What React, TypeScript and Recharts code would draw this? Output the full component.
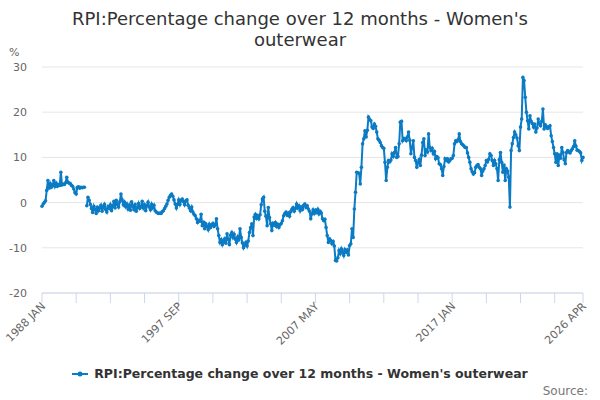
import React from 'react'
import { LineChart, Line, XAxis, YAxis, CartesianGrid } from 'recharts'

const FONT = '"DejaVu Sans", "Lucida Grande", Arial, sans-serif'
const LINE_COLOR = '#0a7bc4'

const title1 = "RPI:Percentage change over 12 months - Women's"
const title2 = 'outerwear'
const seriesName = "RPI:Percentage change over 12 months - Women's outerwear"

const startYear = 1988
const monthNames = ['JAN', 'FEB', 'MAR', 'APR', 'MAY', 'JUN', 'JUL', 'AUG', 'SEP', 'OCT', 'NOV', 'DEC']

// monthly % change, one row per year
const pct1988to1996 = [
  -0.8, -0.3, 0.0, 0.4, 2.7, 4.9, 3.2, 4.2, 3.4, 3.8, 4.9, 3.6,
  4.3, 3.6, 4.0, 3.8, 6.7, 3.9, 4.1, 4.0, 4.4, 5.6, 4.5, 4.3,
  4.2, 3.8, 3.6, 3.0, 2.2, 1.9, 3.4, 3.5, 3.2, 3.4, 3.3, 3.4,
  3.4, null, -0.7, 1.2, 0.5, -0.4, -1.3, -2.2, -0.8, -1.5, -2.4, -1.0,
  -1.8, -1.2, -0.6, -1.9, -1.0, -0.4, -1.5, -2.1, -0.9, -1.3, -0.5, -1.8,
  -0.8, 0.3, -1.2, 0.5, -0.4, -1.0, 0.2, 1.9, 0.6, -0.5, 0.1, -0.9,
  -0.3, -1.4, -0.6, -1.7, 0.2, -0.8, -1.5, -0.4, -1.9, -1.1, -0.2, -1.3,
  -0.9, 0.3, -1.2, -0.5, -1.8, -0.7, 0.1, -1.0, -1.6, -0.4, -1.2, -0.6,
  -1.8, -2.1, -2.3, -2.4, -2.3, -2.4, -2.0, -1.8, -1.3, -0.8, -0.3, 0.5,
]

const pct1997to2005 = [
  1.2, 1.6, 1.9, 1.4, 0.6, -0.3, -1.2, -0.4, 0.6, -0.4, 0.5, 0.8,
  0.2, -0.5, 0.4, 0.6, -0.6, -1.2, -1.8, -1.0, -2.1, -2.6, -2.9, -3.6,
  -4.4, -3.9, -4.1, -2.6, -5.1, -4.3, -5.8, -4.7, -5.3, -6.0, -4.8, -5.5,
  -5.0, -4.6, -5.3, -4.9, -3.6, -5.8, -7.3, -8.8, -8.2, -9.3, -8.6, -8.0,
  -9.0, -6.9, -8.1, -9.3, -7.2, -6.6, -7.7, -7.0, -8.1, -8.8, -7.6, -8.3,
  -5.8, -7.7, -8.9, -10.0, -9.4, -8.8, -9.6, -8.5, -6.6, -5.5, -4.7, -7.3,
  -3.2, -2.6, -3.5, -2.9, -3.6, -2.7, -0.5, 0.8, 1.2, -1.9, -3.0, -5.1,
  -1.1, -3.3, -4.7, -6.2, -4.6, -5.0, -4.4, -5.3, -4.8, -5.5, -4.9, -4.6,
  -4.0, -2.9, -2.4, -2.1, -2.8, -2.3, -3.0, -2.0, -1.5, -1.1, -1.9, -1.3,
]

const pct2006to2015 = [
  -0.3, -1.2, -0.7, -1.8, -1.0, -1.5, -0.6, -0.3, -1.1, -0.7, -1.4, -1.9,
  -3.6, -2.5, -1.6, -2.4, -1.7, -2.2, -1.5, -2.5, -1.9, -2.3, -3.6, -4.0,
  -3.7, -5.5, -7.3, -8.8, -8.0, -8.4, -9.1, -8.6, -9.6, -12.8, -12.9, -12.2,
  -10.6, -11.3, -10.2, -10.9, -11.7, -10.4, -11.0, -10.5, -11.6, -9.5, -9.1, -5.8,
  -7.7, -1.4, 2.3, 6.7, 6.6, 6.5, 4.1, 7.8, 13.0, 14.1, 15.9, 14.5,
  16.0, 18.9, 18.4, 18.1, 16.7, 16.4, 17.4, 16.9, 15.6, 14.1, 13.8, 13.3,
  12.6, 12.2, 12.0, 8.9, 4.9, 7.8, 9.3, 9.0, 9.4, 10.8, 10.2, 11.1,
  12.2, 10.0, 10.2, 13.0, 17.8, 18.0, 13.7, 14.2, 14.1, 13.7, 14.5, 15.6,
  13.8, 10.8, 12.2, 13.7, 10.0, 9.3, 7.8, 8.8, 9.5, 8.2, 10.5, 13.3,
  14.1, 10.4, 11.6, 11.2, 15.2, 12.2, 11.5, 12.0, 10.8, 11.3, 9.7, 10.2,
]

const pct2016to2026 = [
  9.9, 8.6, 8.4, 7.5, 6.0, 8.0, 9.7, 9.3, 9.7, 9.0, 9.3, 9.7,
  9.8, 10.4, 13.0, 13.7, 13.5, 13.9, 15.2, 13.5, 13.0, 12.8, 12.5, 12.2,
  12.2, 11.0, 10.0, 8.9, 7.5, 6.8, 6.3, 6.6, 7.8, 8.2, 8.4, 7.8,
  7.5, 6.0, 7.0, 7.5, 8.2, 9.3, 9.0, 9.6, 10.8, 10.4, 9.3, 8.2,
  9.3, 8.6, 7.5, 4.9, 9.5, 11.1, 8.9, 6.7, 8.3, 4.9, 7.5, 7.0,
  5.6, -1.0, 11.5, 13.0, 14.4, 15.6, 15.0, 14.3, 12.6, 11.5, 16.7, 18.5,
  27.7, 27.0, 23.3, 20.0, 18.1, 16.3, 19.2, 18.0, 17.5, 16.7, 17.4, 15.6,
  16.5, 18.5, 17.4, 17.0, 18.0, 20.7, 16.3, 17.2, 16.8, 16.4, 16.7, 17.0,
  14.8, 13.5, 12.2, 10.8, 8.9, 10.8, 8.2, 10.5, 9.8, 12.2, 11.1, 9.5,
  8.6, 11.1, 11.5, 11.2, 11.0, 11.5, 11.9, 12.4, 13.7, 12.5, 11.6, 11.5,
  11.3, 11.0, 9.3, 10.0,
]

const yTicks = [-20, -10, 0, 10, 20, 30]
const xTickIdx = [0, 29, 58, 87, 116, 145, 174, 203, 232, 261, 290, 319, 348, 377, 406, 435, 459]
const xLabelIdx = [0, 116, 232, 348, 459]

const allPct = [...pct1988to1996, ...pct1997to2005, ...pct2006to2015, ...pct2016to2026]

const data = allPct.map((v, i) => ({
  idx: i,
  label: `${startYear + Math.floor(i / 12)} ${monthNames[i % 12]}`,
  value: v,
}))

const XTick = (props: any) => {
  const { x, y, payload } = props
  if (!xLabelIdx.includes(payload.value)) return null
  const ax = x + 4
  const ay = y + 4
  return (
    <text
      x={ax}
      y={ay}
      transform={`rotate(-45, ${ax}, ${ay})`}
      textAnchor="end"
      fontSize={11}
      fill="#666666"
      fontFamily={FONT}
    >
      {data[payload.value].label}
    </text>
  )
}

export default function App() {
  return (
    <div
      style={{
        position: 'absolute',
        left: 0,
        top: 0,
        width: 600,
        height: 400,
        background: '#ffffff',
        fontFamily: FONT,
      }}
    >
      <div
        style={{
          position: 'absolute',
          top: 8,
          left: 0,
          width: 600,
          textAlign: 'center',
          fontSize: 18,
          lineHeight: '21px',
          color: '#333333',
        }}
      >
        <div>{title1}</div>
        <div>{title2}</div>
      </div>
      <div style={{ position: 'absolute', left: 9, top: 46, fontSize: 11, color: '#666666' }}>%</div>

      <LineChart
        width={600}
        height={400}
        data={data}
        margin={{ top: 67, right: 17, bottom: 77, left: 0 }}
      >
        <CartesianGrid vertical={false} stroke="#e6e6e6" />
        <XAxis
          dataKey="idx"
          type="number"
          domain={[0, 459]}
          ticks={xTickIdx}
          interval={0}
          height={30}
          tickSize={10}
          tickMargin={0}
          stroke="#ccd6eb"
          tickLine={{ stroke: '#ccd6eb' }}
          axisLine={{ stroke: '#ccd6eb' }}
          tick={<XTick />}
        />
        <YAxis
          type="number"
          domain={[-20, 30]}
          ticks={yTicks}
          width={42}
          axisLine={false}
          tickLine={false}
          tickSize={0}
          tickMargin={15}
          tick={{ fontSize: 11, fill: '#666666', fontFamily: FONT }}
        />
        <Line
          type="linear"
          dataKey="value"
          name={seriesName}
          stroke={LINE_COLOR}
          strokeWidth={2}
          dot={{ r: 1.8, fill: LINE_COLOR, stroke: LINE_COLOR, strokeWidth: 0 }}
          activeDot={false}
          connectNulls={false}
          isAnimationActive={false}
        />
      </LineChart>

      <div
        style={{
          position: 'absolute',
          top: 366,
          left: 0,
          width: 600,
          display: 'flex',
          justifyContent: 'center',
          alignItems: 'center',
          fontSize: 12.5,
          fontWeight: 'bold',
          color: '#333333',
        }}
      >
        <svg width={16} height={12} style={{ marginRight: 6 }}>
          <line x1={0} y1={6} x2={16} y2={6} stroke={LINE_COLOR} strokeWidth={2} />
          <circle cx={8} cy={6} r={2.5} fill={LINE_COLOR} />
        </svg>
        <span>{seriesName}</span>
      </div>
      <div
        style={{
          position: 'absolute',
          top: 384,
          right: 12,
          fontSize: 12,
          color: '#777777',
        }}
      >
        Source:
      </div>
    </div>
  )
}
